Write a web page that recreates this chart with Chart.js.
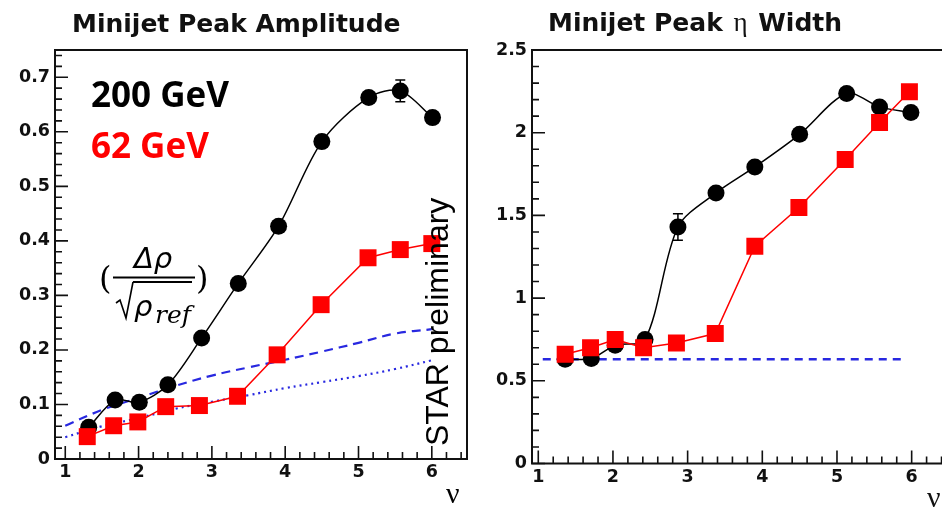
<!DOCTYPE html>
<html lang="en">
<head>
<meta charset="UTF-8" />
<title>Minijet Peak Amplitude and Width</title>
<script src="https://cdn.jsdelivr.net/npm/chart.js"></script>
<style>
  html, body { margin: 0; padding: 0; background: #fff; overflow: hidden; }
  body { width: 942px; height: 510px; position: relative; }
  canvas { position: absolute; top: 0; }
  #ampChart { left: 0; }
  #widthChart { left: 480px; }
</style>
</head>
<body>
<canvas id="ampChart" width="480" height="510"></canvas>
<canvas id="widthChart" width="500" height="510"></canvas>
<script>
// --- left panel: minijet peak amplitude vs nu ---
const nu200 = [1.32, 1.68, 2.01, 2.40, 2.86, 3.36, 3.91, 4.50, 5.14, 5.57, 6.01];
const amp200 = [0.058, 0.108, 0.104, 0.136, 0.222, 0.322, 0.427, 0.582, 0.663, 0.675, 0.626];
const amp200Err = [0, 0, 0, 0, 0, 0, 0, 0, 0, 0.02, 0];
const nu62 = [1.30, 1.66, 1.99, 2.37, 2.83, 3.35, 3.89, 4.49, 5.13, 5.57, 6.00];
const amp62 = [0.041, 0.061, 0.068, 0.096, 0.098, 0.115, 0.191, 0.283, 0.369, 0.384, 0.395];
const nuRef = [1.0, 1.5, 2.0, 2.5, 3.0, 3.5, 4.0, 4.5, 5.0, 5.5, 6.0];
const ampRefDashed = [0.061, 0.090, 0.112, 0.134, 0.153, 0.168, 0.182, 0.197, 0.213, 0.230, 0.238];
const ampRefDotted = [0.040, 0.060, 0.075, 0.092, 0.105, 0.117, 0.130, 0.141, 0.152, 0.165, 0.181];

// --- right panel: minijet peak eta width vs nu ---
const nuW200 = [1.36, 1.71, 2.03, 2.43, 2.87, 3.38, 3.90, 4.50, 5.13, 5.57, 5.99];
const width200 = [0.63, 0.635, 0.715, 0.75, 1.43, 1.636, 1.793, 1.99, 2.237, 2.156, 2.122];
const width200Err = [0, 0, 0, 0, 0.08, 0, 0, 0, 0, 0, 0];
const nuW62 = [1.36, 1.70, 2.03, 2.41, 2.85, 3.37, 3.90, 4.49, 5.11, 5.57, 5.97];
const width62 = [0.661, 0.70, 0.75, 0.70, 0.729, 0.786, 1.314, 1.548, 1.838, 2.062, 2.247];
const nuWRef = [1.06, 5.93];
const widthRef = [0.63, 0.63];

// tick labels
const nuTicks = [1, 2, 3, 4, 5, 6];
const ampTicks = [0, 0.1, 0.2, 0.3, 0.4, 0.5, 0.6, 0.7];
const widthTicks = [0, 0.5, 1, 1.5, 2, 2.5];

const pts = (xs, ys) => xs.map((x, i) => ({ x: x, y: ys[i] }));
const tickFont = { family: 'DejaVu Sans', weight: 'bold', size: 17.5 };

// ROOT style frame with inward major/minor ticks
const rootAxes = {
    id: 'rootAxes',
    afterDraw(chart, args, o) {
        const { ctx, chartArea: a, scales: { x, y } } = chart;
        ctx.save();
        ctx.strokeStyle = '#111';
        ctx.lineWidth = 2;
        ctx.strokeRect(a.left, a.top, a.right - a.left, a.bottom - a.top);
        ctx.lineWidth = 1.6;
        const marks = (scale, minor, major, draw) => {
            for (let k = Math.ceil(scale.min / minor - 1e-9); k * minor <= scale.max + 1e-9; k++) {
                const v = k * minor;
                const isMajor = Math.abs(v / major - Math.round(v / major)) < 1e-6;
                draw(scale.getPixelForValue(v), isMajor ? 13 : 7);
            }
        };
        ctx.beginPath();
        marks(x, o.xMinor, o.xMajor, (p, len) => { ctx.moveTo(p, a.bottom); ctx.lineTo(p, a.bottom - len); });
        marks(y, o.yMinor, o.yMajor, (p, len) => { ctx.moveTo(a.left, p); ctx.lineTo(a.left + len, p); });
        ctx.stroke();
        ctx.restore();
    }
};

// vertical error bars, drawn under the markers
const errorBars = {
    id: 'errorBars',
    beforeDatasetsDraw(chart) {
        const { ctx, scales: { x, y } } = chart;
        chart.data.datasets.forEach(ds => {
            if (!ds.errors) return;
            ctx.save();
            ctx.strokeStyle = ds.borderColor;
            ctx.lineWidth = 1.5;
            ds.data.forEach((p, i) => {
                const e = ds.errors[i];
                if (!e) return;
                const px = x.getPixelForValue(p.x);
                const top = y.getPixelForValue(p.y + e), bot = y.getPixelForValue(p.y - e);
                ctx.beginPath();
                ctx.moveTo(px, top); ctx.lineTo(px, bot);
                ctx.moveTo(px - 5, top); ctx.lineTo(px + 5, top);
                ctx.moveTo(px - 5, bot); ctx.lineTo(px + 5, bot);
                ctx.stroke();
            });
            ctx.restore();
        });
    }
};

function series(label, xs, ys, color, style) {
    return Object.assign({
        label: label,
        data: pts(xs, ys),
        showLine: true,
        borderColor: color,
        backgroundColor: color,
        borderWidth: 1.5,
        pointRadius: 0,
        pointBorderWidth: 0
    }, style);
}

function scalesFor(xMin, xMax, yMin, yMax, yTicks, yWidth, xHeight) {
    return {
        x: {
            type: 'linear', min: xMin, max: xMax,
            grid: { display: false, drawTicks: false }, border: { display: false },
            afterBuildTicks: s => { s.ticks = nuTicks.map(v => ({ value: v })); },
            afterFit: s => { s.height = xHeight; },
            ticks: { padding: 3, font: tickFont, color: '#111', maxRotation: 0, autoSkip: false, callback: v => String(v) }
        },
        y: {
            type: 'linear', min: yMin, max: yMax,
            grid: { display: false, drawTicks: false }, border: { display: false },
            afterBuildTicks: s => { s.ticks = yTicks.map(v => ({ value: v })); },
            afterFit: s => { s.width = yWidth; },
            ticks: { padding: 5, font: tickFont, color: '#111', autoSkip: false, callback: v => String(v) }
        }
    };
}

// left panel labels
const ampText = {
    id: 'ampText',
    afterDraw(chart) {
        const ctx = chart.ctx;
        ctx.save();
        ctx.fillStyle = '#111';
        ctx.textBaseline = 'alphabetic';
        ctx.font = 'bold 25px "DejaVu Sans"';
        ctx.fillText('Minijet Peak Amplitude', 72, 32);

        ctx.font = 'bold 35px "Open Sans"';
        ctx.fillStyle = '#000';
        ctx.fillText('200 GeV', 91, 107);
        ctx.fillStyle = '#ff0000';
        ctx.fillText('62 GeV', 91, 158);

        // (Δρ / √ρ_ref)
        ctx.fillStyle = '#000';
        ctx.strokeStyle = '#000';
        ctx.font = '32px "DejaVu Serif"';
        ctx.fillText('(', 99, 289);
        ctx.fillText(')', 196, 289);
        ctx.font = 'italic 29px "DejaVu Sans"';
        ctx.fillText('Δρ', 134, 268);
        ctx.font = 'italic 29px "DejaVu Sans"';
        ctx.fillText('ρ', 134, 316);
        ctx.font = 'italic 25px "DejaVu Serif"';
        ctx.fillText('ref', 155, 323);
        ctx.lineWidth = 2;
        ctx.beginPath();
        ctx.moveTo(113, 277.5); ctx.lineTo(195, 277.5);
        ctx.moveTo(133, 282); ctx.lineTo(192, 282);
        ctx.stroke();
        ctx.lineWidth = 1.6;
        ctx.beginPath();
        ctx.moveTo(116, 303); ctx.lineTo(120, 300); ctx.lineTo(126, 318); ctx.lineTo(133, 282);
        ctx.stroke();

        ctx.font = '30px "Liberation Serif"';
        ctx.fillText('ν', 446, 503);

        ctx.translate(448, 446);
        ctx.rotate(-Math.PI / 2);
        ctx.font = '32px "Liberation Sans"';
        ctx.fillText('STAR preliminary', 0, 0);
        ctx.restore();
    }
};

// right panel labels
const widthText = {
    id: 'widthText',
    afterDraw(chart) {
        const ctx = chart.ctx;
        ctx.save();
        ctx.fillStyle = '#111';
        let x = 68;
        ctx.font = 'bold 25px "DejaVu Sans"';
        ctx.fillText('Minijet Peak ', x, 31);
        x += ctx.measureText('Minijet Peak ').width + 2;
        ctx.font = '27px "Liberation Serif"';
        ctx.fillText('η', x, 31);
        x += ctx.measureText('η').width + 2;
        ctx.font = 'bold 25px "DejaVu Sans"';
        ctx.fillText(' Width', x, 31);
        ctx.font = '30px "Liberation Serif"';
        ctx.fillText('ν', 447, 507);
        ctx.restore();
    }
};

const common = {
    responsive: false,
    animation: false,
    devicePixelRatio: 1,
    plugins: { legend: { display: false }, tooltip: { enabled: false } }
};

new Chart(document.getElementById('ampChart'), {
    type: 'scatter',
    data: {
        datasets: [
            series('62 GeV', nu62, amp62, '#ff0000', { pointStyle: 'rect', pointRadius: 12 }),
            series('200 GeV', nu200, amp200, '#000000', { pointStyle: 'circle', pointRadius: 8.5, tension: 0.3, errors: amp200Err }),
            series('ref dashed', nuRef, ampRefDashed, '#2828e0', { borderWidth: 2.2, borderDash: [9, 6], tension: 0.4 }),
            series('ref dotted', nuRef, ampRefDotted, '#2828e0', { borderWidth: 2.2, borderDash: [2, 4], tension: 0.4 })
        ]
    },
    options: Object.assign({}, common, {
        layout: { padding: { left: 0, top: 50, right: 13, bottom: 0 } },
        scales: scalesFor(0.86, 6.48, 0, 0.75, ampTicks, 55, 51),
        plugins: Object.assign({}, common.plugins, { rootAxes: { xMinor: 0.2, xMajor: 1, yMinor: 0.02, yMajor: 0.1 } })
    }),
    plugins: [rootAxes, errorBars, ampText]
});

new Chart(document.getElementById('widthChart'), {
    type: 'scatter',
    data: {
        datasets: [
            series('62 GeV', nuW62, width62, '#ff0000', { pointStyle: 'rect', pointRadius: 12 }),
            series('200 GeV', nuW200, width200, '#000000', { pointStyle: 'circle', pointRadius: 8.5, tension: 0.3, errors: width200Err }),
            series('ref', nuWRef, widthRef, '#2828e0', { borderWidth: 2.4, borderDash: [8, 6] })
        ]
    },
    options: Object.assign({}, common, {
        layout: { padding: { left: 0, top: 50, right: 31, bottom: 0 } },
        scales: scalesFor(0.916, 6.5, 0, 2.5, widthTicks, 52, 46.5),
        plugins: Object.assign({}, common.plugins, { rootAxes: { xMinor: 0.2, xMajor: 1, yMinor: 0.1, yMajor: 0.5 } })
    }),
    plugins: [rootAxes, errorBars, widthText]
});
</script>
</body>
</html>
